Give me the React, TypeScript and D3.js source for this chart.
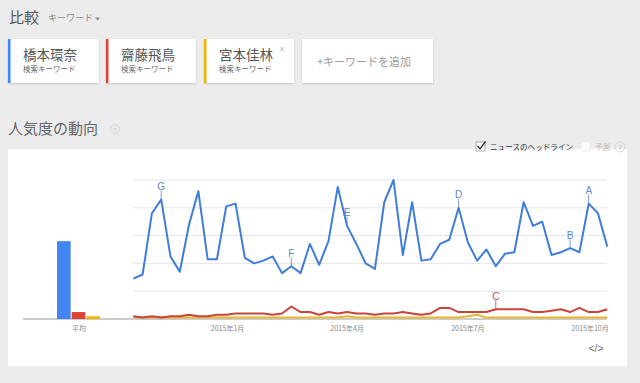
import React from "react";
import * as d3 from "d3";

// ---- data ----
const seriesNames = ["橋本環奈", "齋藤飛鳥", "宮本佳林"];
const seriesColors = ["#4285f4", "#db4437", "#f4b400"];
const lineColors = ["#3f7ddb", "#c9453a", "#e8b533"];
const averages = [56, 5, 2];

const firstWeek = new Date(2014, 9, 22);
const weekCount = 52;

const hashimoto = [29, 32, 76, 86, 45, 34, 68, 92, 43, 43, 81, 83, 44, 40, 42, 45, 33, 38, 33, 54,
  39, 56, 95, 67, 54, 40, 36, 84, 100, 46, 84, 42, 43, 54, 57, 80, 55, 42, 50, 38,
  47, 48, 84, 67, 70, 46, 48, 51, 48, 83, 76, 52];
const saito = [2, 1, 2, 1, 2, 2, 3, 2, 2, 3, 3, 4, 4, 4, 4, 3, 4, 9, 5, 5,
  3, 5, 4, 5, 4, 4, 3, 4, 4, 5, 4, 3, 4, 8, 8, 5, 5, 5, 5, 7,
  7, 7, 7, 5, 5, 6, 7, 5, 8, 5, 5, 7];
const miyamoto = [1, 1, 1, 1, 1, 1, 1, 1, 1, 1, 1, 1, 1, 1, 1, 1, 1, 1, 1, 1,
  1, 1, 1, 2, 1, 1, 1, 1, 1, 1, 1, 1, 1, 1, 1, 1, 2, 3, 1, 1,
  1, 1, 1, 1, 1, 1, 1, 1, 1, 1, 1, 1];
const seriesValues = [hashimoto, saito, miyamoto];

const tickDates = [new Date(2015, 0, 1), new Date(2015, 3, 1), new Date(2015, 6, 1), new Date(2015, 9, 1)];
const tickLabels = ["2015年1月", "2015年4月", "2015年7月", "2015年10月"];
const yTicks = [0, 20, 40, 60, 80, 100];

const annotationLetters = ["G", "F", "E", "D", "C", "B", "A"];
const annotationSeries = [0, 0, 0, 0, 1, 0, 0];
const annotationIndex = [3, 17, 23, 35, 39, 47, 49];

const FONT = "'Noto Sans CJK JP', 'Noto Sans', sans-serif";
const LATIN = "Arial, 'Liberation Sans', sans-serif";

export default function App() {
  const W = 640, H = 383;
  const weeks = d3.range(weekCount).map((i) => d3.timeDay.offset(firstWeek, i * 7));
  const x = d3.scaleTime().domain([weeks[0], weeks[weeks.length - 1]]).range([133.3, 607.3]);
  const y = d3.scaleLinear().domain([0, 100]).range([319, 180]);
  const barX = d3.scaleBand<number>().domain([0, 1, 2]).range([57, 100]).paddingInner(0.07);

  const line = d3.line<number>()
    .x((_, i) => x(weeks[i]))
    .y((v) => y(v))
    .curve(d3.curveLinear);

  const cards = [
    { x: 8, w: 91 },
    { x: 106, w: 90 },
    { x: 204, w: 90 },
  ];

  return (
    <svg width={W} height={H} style={{ display: "block", position: "absolute", left: 0, top: 0 }}>
      <style>{`body{margin:0}`}</style>
      <defs>
        <filter id="sh" x="-10%" y="-10%" width="120%" height="130%">
          <feDropShadow dx="0" dy="1" stdDeviation="0.8" floodColor="#000" floodOpacity="0.15" />
        </filter>
      </defs>
      <rect x={0} y={0} width={W} height={H} fill="#ececec" />

      {/* header */}
      <text x={9} y={23} fontSize={15} fill="#555" fontFamily={FONT}>比較</text>
      <text x={48} y={21} fontSize={9} fill="#888" fontFamily={FONT}>キーワード</text>
      <path d="M95,17.5 L100,17.5 L97.5,20.5 Z" fill="#888" />

      {cards.map((c, i) => (
        <g key={i}>
          <rect x={c.x} y={39} width={c.w} height={44} fill="#fff" filter="url(#sh)" />
          <rect x={c.x} y={39} width={2.5} height={44} fill={seriesColors[i]} />
          <text x={c.x + 15} y={60} fontSize={13.5} fill="#555" fontFamily={FONT}>{seriesNames[i]}</text>
          <text x={c.x + 15} y={72} fontSize={7.5} fill="#666" fontFamily={FONT}>検索キーワード</text>
        </g>
      ))}
      <text x={282} y={53} fontSize={10} fill="#bbb" fontFamily={LATIN} textAnchor="middle">×</text>
      <rect x={302} y={39} width={131} height={44} fill="#fff" filter="url(#sh)" />
      <text x={317} y={66} fontSize={11} fill="#9a9a9a" fontFamily={FONT}>+キーワードを追加</text>

      <text x={8} y={134} fontSize={15} fill="#666" fontFamily={FONT}>人気度の動向</text>
      <circle cx={115} cy={129} r={4.5} fill="none" stroke="#d0d0d0" strokeWidth={0.8} />
      <text x={115} y={131.5} fontSize={6} fill="#c8c8c8" textAnchor="middle" fontFamily={LATIN}>?</text>

      {/* card */}
      <rect x={8} y={149} width={619} height={217} fill="#fff" />

      {/* news checkbox */}
      <rect x={476} y={142} width={9} height={9} fill="#fff" stroke="#999" strokeWidth={0.8} />
      <path d="M477.5,146 L480,149 L485.5,141.5" fill="none" stroke="#333" strokeWidth={1.3} />
      <text x={490} y={150} fontSize={7.6} fill="#333" fontFamily={FONT}>ニュースのヘッドライン</text>
      <rect x={581} y={142} width={9} height={9} fill="#fafafa" stroke="#eee" strokeWidth={0.8} />
      <text x={595} y={150} fontSize={7.5} fill="#bbb" fontFamily={FONT}>予測</text>
      <circle cx={620} cy={147} r={5} fill="none" stroke="#ccc" strokeWidth={0.8} />
      <text x={620} y={150} fontSize={7} fill="#bbb" textAnchor="middle" fontFamily={LATIN}>?</text>

      {/* grid */}
      {yTicks.filter((t) => t > 0).map((t) => (
        <line key={t} x1={133} x2={607} y1={y(t)} y2={y(t)} stroke="#e6e6e6" strokeWidth={1} />
      ))}
      <line x1={23} x2={607} y1={y(0)} y2={y(0)} stroke="#999" strokeWidth={1} />

      {/* average bars */}
      {averages.map((v, i) => (
        <rect key={i} x={barX(i)} y={y(v)} width={barX.bandwidth()} height={y(0) - y(v)} fill={seriesColors[i]} />
      ))}
      <text x={79} y={331} fontSize={7} fill="#888" textAnchor="middle" fontFamily={FONT}>平均</text>

      {/* lines */}
      {[2, 1, 0].map((s) => (
        <path key={s} d={line(seriesValues[s]) || ""} fill="none" stroke={lineColors[s]} strokeWidth={2} strokeLinejoin="round" />
      ))}

      {/* x ticks */}
      {tickDates.map((d, i) => (
        <text key={i} x={Math.min(x(d), 590)} y={331} fontSize={7} fill="#888" textAnchor="middle" fontFamily={FONT}>{tickLabels[i]}</text>
      ))}

      {/* annotations */}
      {annotationLetters.map((L, k) => {
        const s = annotationSeries[k];
        const idx = annotationIndex[k];
        const px = x(weeks[idx]);
        const py = y(seriesValues[s][idx]);
        const col = s === 0 ? "#5f86c6" : "#c0504d";
        return (
          <g key={L}>
            <line x1={px} x2={px} y1={py - 9} y2={py} stroke={col} strokeWidth={1} opacity={0.8} />
            <text x={px} y={py - 9.5} fontSize={10} fill={col} textAnchor="middle" fontFamily={LATIN}>{L}</text>
          </g>
        );
      })}

      <text x={596} y={352} fontSize={10} fill="#666" textAnchor="middle" fontFamily={LATIN}>&lt;/&gt;</text>
    </svg>
  );
}
